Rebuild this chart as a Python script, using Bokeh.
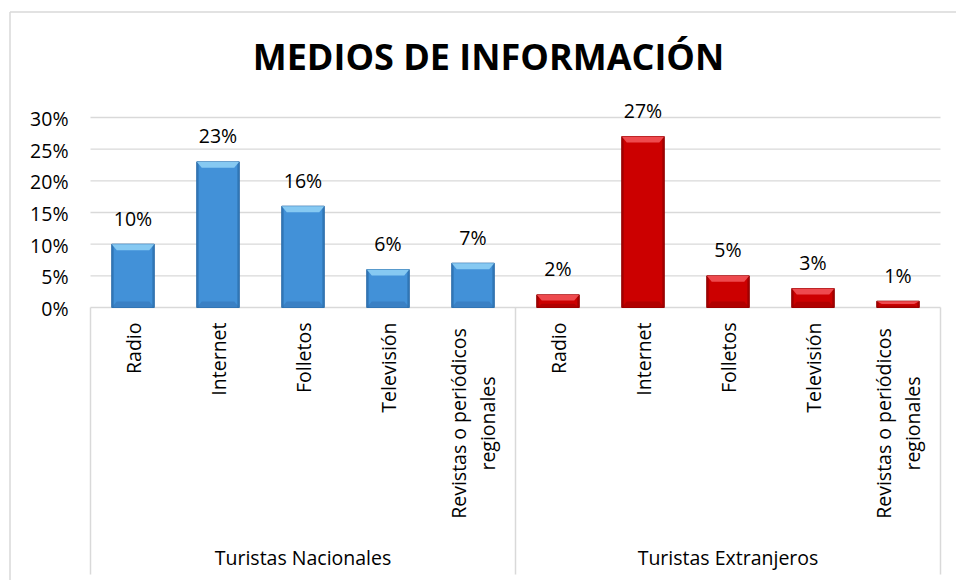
import math
from bokeh.plotting import figure
from bokeh.models import Range1d
from bokeh.core.properties import value
from bokeh.embed import file_html
from bokeh.resources import INLINE

# ---------------- data ----------------
categories = ["Radio", "Internet", "Folletos", "Televisión", "Revistas o periódicos\nregionales"]
groups = ["Turistas Nacionales", "Turistas Extranjeros"]
nacionales = [0.10, 0.23, 0.16, 0.06, 0.07]
extranjeros = [0.02, 0.27, 0.05, 0.03, 0.01]
y_ticks = [0.0, 0.05, 0.10, 0.15, 0.20, 0.25, 0.30]
y_tick_labels = ["0%", "5%", "10%", "15%", "20%", "25%", "30%"]
title_text = "MEDIOS DE INFORMACIÓN"

# ---------------- layout (canvas pixels) ----------------
FONT = "Open Sans"
FS = "19.5px"
W, H = 956, 580
PLOT_L, PLOT_R = 90.0, 940.0       # plot area left/right
ZERO_Y, TOP_Y = 307.0, 117.0       # y of 0% and 30%
PX_PER_CAT = (PLOT_R - PLOT_L) / (len(categories) * len(groups))
PX_PER_UNIT_Y = (ZERO_Y - TOP_Y) / y_ticks[-1]


def dx(px):
    return (px - PLOT_L) / PX_PER_CAT


def dy(py):
    return (ZERO_Y - py) / PX_PER_UNIT_Y


p = figure(width=W, height=H, output_backend="svg", toolbar_location=None,
           x_range=Range1d(dx(0), dx(W)), y_range=Range1d(dy(H), dy(0)),
           x_axis_location=None, y_axis_location=None, min_border=0)
p.grid.visible = False
p.outline_line_color = None
p.background_fill_color = "white"

GRID = "#d9d9d9"

# chart border (top + left)
p.segment(x0=[dx(9.5), dx(9.5)], y0=[dy(11.5), dy(11.5)],
          x1=[dx(9.5), dx(W)], y1=[dy(H), dy(11.5)],
          line_color=GRID, line_width=1.5)

# gridlines
p.segment(x0=[0] * len(y_ticks), x1=[dx(PLOT_R)] * len(y_ticks), y0=y_ticks, y1=y_ticks,
          line_color=GRID, line_width=1.3)

# group separators
n_groups = len(groups)
ncat = len(categories)
sep_x = [g * ncat for g in range(n_groups + 1)]
p.segment(x0=sep_x, x1=sep_x, y0=[0] * len(sep_x), y1=[dy(574)] * len(sep_x),
          line_color=GRID, line_width=1.5)

# y tick labels
p.text(x=[dx(68)] * len(y_ticks), y=y_ticks, text=y_tick_labels,
       text_font=value(FONT), text_font_size=FS, text_align="right",
       text_baseline="alphabetic", y_offset=1, text_color="#000000")

# title
p.text(x=[dx(488)], y=[dy(56)], text=[title_text], text_font=value(FONT),
       text_font_size="36px", text_font_style="bold", text_align="center",
       text_baseline="alphabetic", text_color="#000000")

# bars
styles = [
    dict(main="#4291d8", light="#86c9f2", dark="#2a6aa6", low="#3a80c4"),
    dict(main="#cc0000", light="#ee4a4e", dark="#8e0000", low="#b00000"),
]
series = [nacionales, extranjeros]
BW = 0.5
bev_x = 5.0 / PX_PER_CAT
side = 2.0 / PX_PER_CAT
for g, vals in enumerate(series):
    st = styles[g]
    xs = [g * ncat + i + 0.5 for i in range(len(vals))]
    p.vbar(x=xs, top=vals, bottom=0, width=BW, fill_color=st["main"], line_color=st["dark"],
           line_width=1)
    # bottom bevel (darker)
    bxs, bys = [], []
    for x, v in zip(xs, vals):
        b = min(6.0 / PX_PER_UNIT_Y, v * 0.3)
        bxs.append([x - BW / 2, x + BW / 2, x + BW / 2 - bev_x, x - BW / 2 + bev_x])
        bys.append([0, 0, b, b])
    p.patches(xs=bxs, ys=bys, fill_color=st["low"], line_color=None)
    # side shading
    p.quad(left=[x - BW / 2 for x in xs], right=[x - BW / 2 + side for x in xs],
           top=vals, bottom=[0] * len(vals), fill_color=st["dark"], line_color=None, fill_alpha=0.6)
    p.quad(left=[x + BW / 2 - side for x in xs], right=[x + BW / 2 for x in xs],
           top=vals, bottom=[0] * len(vals), fill_color=st["dark"], line_color=None, fill_alpha=0.6)
    # top bevel
    pxs, pys = [], []
    for x, v in zip(xs, vals):
        b = min(6.0 / PX_PER_UNIT_Y, v * 0.45)
        pxs.append([x - BW / 2, x + BW / 2, x + BW / 2 - bev_x, x - BW / 2 + bev_x])
        pys.append([v, v, v - b, v - b])
    p.patches(xs=pxs, ys=pys, fill_color=st["light"], line_color=None)
    # value labels
    p.text(x=xs, y=vals, text=[f"{round(v * 100)}%" for v in vals], text_font=value(FONT),
           text_font_size=FS, text_align="center", text_baseline="alphabetic",
           y_offset=-26, text_color="#000000")

    # category labels (rotated)
    single_x, single_t = [], []
    for i, c in enumerate(categories):
        x = g * ncat + i + 0.5
        if "\n" in c:
            l1, l2 = c.split("\n")
            p.text(x=[x - 14.5 / PX_PER_CAT, x + 14.5 / PX_PER_CAT], y=[dy(423), dy(423)],
                   text=[l1, l2], angle=math.pi / 2, text_font=value(FONT),
                   text_font_size=FS, text_align="center", text_baseline="middle",
                   text_color="#000000")
        else:
            single_x.append(x)
            single_t.append(c)
    p.text(x=single_x, y=[dy(322)] * len(single_x), text=single_t, angle=math.pi / 2,
           text_font=value(FONT), text_font_size=FS, text_align="right",
           text_baseline="middle", text_color="#000000")

# group labels
p.text(x=[g * ncat + ncat / 2 for g in range(n_groups)], y=[dy(557)] * n_groups, text=groups,
       text_font=value(FONT), text_font_size=FS, text_align="center",
       text_baseline="alphabetic", text_color="#000000")

open("out.html", "w").write(file_html(p, INLINE))
